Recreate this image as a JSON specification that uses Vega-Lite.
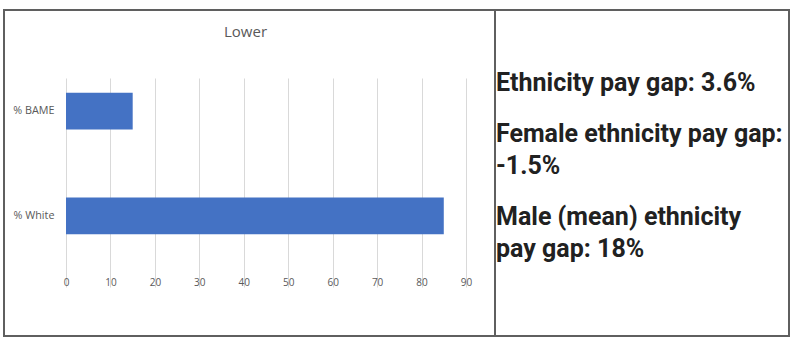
{
  "$schema": "https://vega.github.io/schema/vega-lite/v6.json",
  "autosize": {"type": "pad"},
  "padding": {"left": 3, "top": 9, "right": 0, "bottom": 0},
  "bounds": "flush",
  "spacing": 0,
  "background": "white",
  "config": {
    "view": {"stroke": "#5f5f5f", "strokeWidth": 2},
    "axis": {"labelFont": "Open Sans", "labelColor": "#595959", "labelFontSize": 10}
  },
  "hconcat": [
    {
      "width": 491,
      "height": 326,
      "title": {
        "text": "Lower",
        "font": "Open Sans",
        "fontSize": 15,
        "fontWeight": "normal",
        "color": "#595959",
        "anchor": "middle",
        "frame": "group",
        "offset": -30,
        "dx": -4
      },
      "data": {"values": [
        {"group": "% BAME", "value": 15},
        {"group": "% White", "value": 85}
      ]},
      "mark": {"type": "bar", "color": "#4472C4", "height": 36.6},
      "encoding": {
        "y": {
          "field": "group", "type": "nominal", "sort": null,
          "scale": {"type": "band", "range": [49, 258], "paddingInner": 0.65, "paddingOuter": 0.3225},
          "axis": {"title": null, "orient": "left", "offset": -62, "labelPadding": 12, "domain": false, "ticks": false, "grid": false, "labelFontSize": 10.8}
        },
        "x": {
          "field": "value", "type": "quantitative",
          "scale": {"domain": [0, 90], "range": [62, 462], "nice": false},
          "axis": {"title": null, "orient": "bottom", "offset": -68, "values": [0, 10, 20, 30, 40, 50, 60, 70, 80, 90], "labelPadding": 9, "domain": false, "ticks": false, "grid": true, "gridColor": "#d9d9d9", "gridWidth": 1, "labelFlush": false}
        }
      }
    },
    {
      "width": 294,
      "height": 326,
      "data": {"values": [
        {"para": 1, "fromEnd": 1, "text": "Ethnicity pay gap: 3.6%"},
        {"para": 2, "fromEnd": 2, "text": "Female ethnicity pay gap:"},
        {"para": 2, "fromEnd": 1, "text": "-1.5%"},
        {"para": 3, "fromEnd": 2, "text": "Male (mean) ethnicity"},
        {"para": 3, "fromEnd": 1, "text": "pay gap: 18%"}
      ]},
      "mark": {
        "type": "text", "font": "Roboto", "fontWeight": "bold", "fontSize": 25,
        "color": "#212121", "align": "left", "baseline": "middle", "dx": 1
      },
      "encoding": {
        "x": {"datum": 0, "type": "quantitative", "scale": {"domain": [0, 1]}, "axis": null},
        "y": {"field": "para", "type": "ordinal", "scale": {"type": "band", "paddingInner": 0, "paddingOuter": 0.4639, "align": 0.2}, "axis": null},
        "yOffset": {"field": "fromEnd", "type": "ordinal", "sort": "descending", "scale": {"type": "point", "padding": 0.777}},
        "text": {"field": "text", "type": "nominal"}
      }
    }
  ]
}
